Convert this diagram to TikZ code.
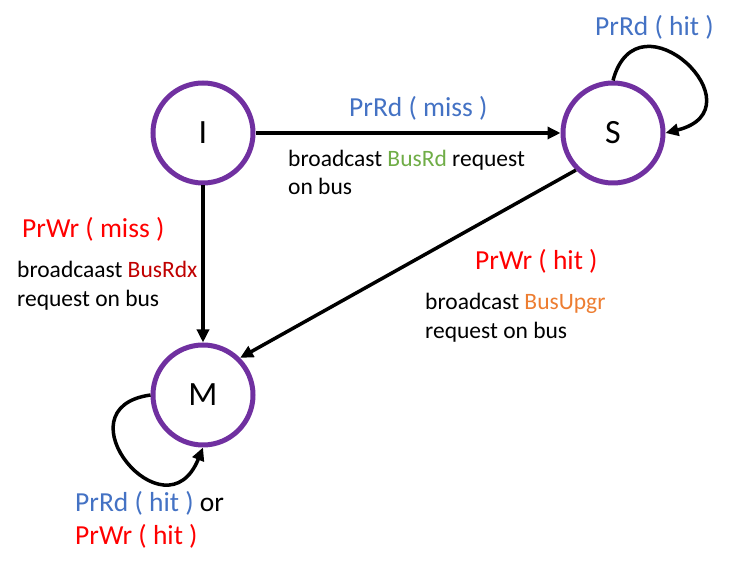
\documentclass[tikz,border=0pt]{standalone}
\usepackage{fontspec}
\setmainfont{Carlito}
\usetikzlibrary{arrows.meta}
\definecolor{stpurple}{HTML}{7030A0}
\definecolor{lblue}{HTML}{4472C4}
\definecolor{lred}{HTML}{FF0000}
\definecolor{dred}{HTML}{C00000}
\definecolor{lgreen}{HTML}{70AD47}
\definecolor{lorange}{HTML}{ED7D31}
\begin{document}
\begin{tikzpicture}[x=1pt,y=1pt,
  state/.style={circle, draw=stpurple, line width=5pt, minimum size=100pt, inner sep=0pt, font=\fontsize{34}{40}\selectfont},
  arr/.style={line width=3.5pt, -{Triangle[length=13pt,width=12pt]}},
  lbl/.style={font=\fontsize{27.5}{33.5}\selectfont, inner sep=0pt, align=left},
  desc/.style={font=\fontsize{23.5}{28.7}\selectfont, inner sep=0pt, align=left},
]
\useasboundingbox (0,0) rectangle (734,570);
\node[state] (I) at (203,437) {I};
\node[state] (S) at (613,437) {S};
\node[state] (M) at (203,175) {M};

\draw[arr] (I) -- (S);
\draw[arr] (I) -- (M);
\draw[arr] (S.-135) -- (M.45);
\draw[arr] (S.north) .. controls +(75:95) and +(14:100) .. (S.east);
\draw[arr] (M.west) .. controls +(188:95) and +(248:100) .. (M.south);

\node[lbl, anchor=west, text=lblue] (l1) at (595,543) {PrRd ( hit )};
\node[lbl, anchor=west, text=lblue] (l2) at (349,462) {PrRd ( miss )};
\node[desc, anchor=base west] (d2) at (288,375) {broadcast \textcolor{lgreen}{BusRd} request\\on bus};
\node[lbl, anchor=west, text=lred] (l3) at (22,341) {PrWr ( miss )};
\node[desc, anchor=base west] (d3) at (17,263.5) {broadcaast \textcolor{dred}{BusRdx}\\request on bus};
\node[lbl, anchor=west, text=lred] (l4) at (475,309) {PrWr ( hit )};
\node[desc, anchor=base west] (d4) at (425,231.5) {broadcast \textcolor{lorange}{BusUpgr}\\request on bus};
\node[lbl, anchor=west] (l5) at (75,50) {\textcolor{lblue}{PrRd ( hit )} or\\\textcolor{lred}{PrWr ( hit )}};
\end{tikzpicture}
\end{document}
